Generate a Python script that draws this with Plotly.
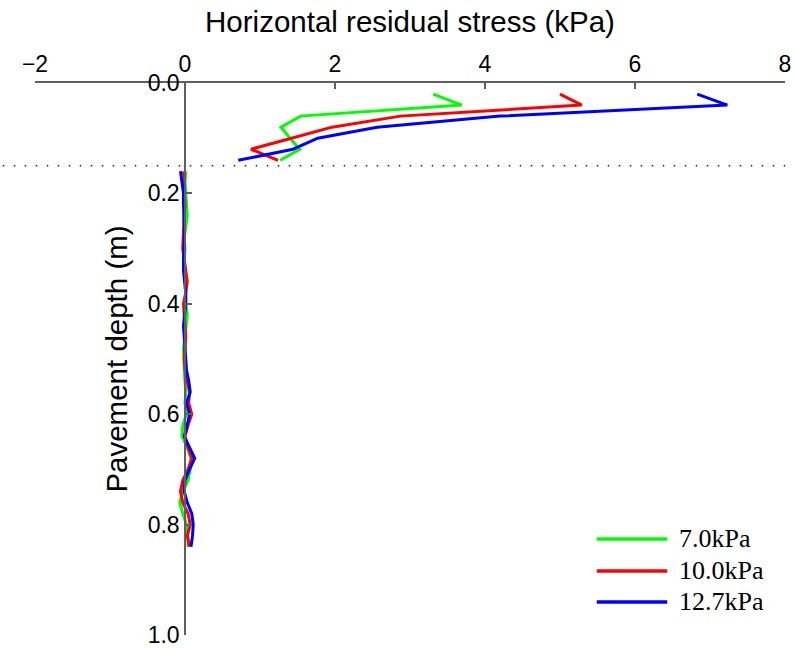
import plotly.graph_objects as go

# depths (m) of the upper layer, above the dotted line
depth_top = [0.02, 0.04, 0.06, 0.08, 0.10, 0.12, 0.14]
green_top = [3.31, 3.69, 1.54, 1.28, 1.40, 1.53, 1.27]
red_top = [5.00, 5.29, 2.87, 1.96, 1.42, 0.88, 1.24]
blue_top = [6.83, 7.23, 4.20, 2.56, 1.77, 1.44, 0.71]

# depths (m) of the lower layer
depth_low = [0.16, 0.18, 0.20, 0.22, 0.24, 0.26, 0.28, 0.30, 0.32, 0.34,
             0.36, 0.38, 0.40, 0.42, 0.44, 0.46, 0.48, 0.50, 0.52, 0.54,
             0.56, 0.58, 0.60, 0.62, 0.64, 0.66, 0.68, 0.70, 0.72, 0.74,
             0.76, 0.78, 0.80, 0.82, 0.84]
green_low = [0.01, 0.00, 0.01, 0.02, 0.03, 0.01, -0.01, 0.00, -0.01, 0.00,
             0.00, 0.00, 0.01, 0.03, 0.02, 0.00, -0.02, -0.02, -0.01, 0.00,
             0.01, 0.00, 0.02, -0.03, -0.04, 0.03, 0.08, 0.07, 0.04, -0.03,
             -0.07, -0.03, 0.02, 0.04, 0.04]
red_low = [-0.02, -0.01, -0.01, 0.00, -0.01, -0.02, -0.03, -0.03, -0.01, 0.01,
           0.03, 0.01, -0.02, -0.01, 0.00, 0.01, 0.00, -0.01, 0.00, 0.03,
           0.06, 0.05, 0.09, 0.04, 0.00, 0.04, 0.09, 0.04, -0.03, -0.06,
           -0.03, 0.04, 0.07, 0.03, 0.06]
blue_low = [-0.06, -0.04, -0.02, -0.02, -0.01, -0.01, -0.01, -0.02, -0.02, -0.02,
            0.00, 0.01, 0.01, -0.01, -0.02, -0.01, 0.00, 0.00, 0.02, 0.05,
            0.07, 0.02, 0.06, 0.03, -0.01, 0.06, 0.13, 0.06, 0.00, -0.01,
            0.03, 0.09, 0.11, 0.10, 0.08]

names = ['7.0kPa', '10.0kPa', '12.7kPa']
colors = ['#00ff00', '#ff0000', '#0000ff']
layer_depth = 0.15
y_ticks = [0.0, 0.2, 0.4, 0.6, 0.8, 1.0]
y_ticklabels = ['0.0', '0.2', '0.4', '0.6', '0.8', '1.0']

series = [(green_top, green_low), (red_top, red_low), (blue_top, blue_low)]

fig = go.Figure()
for (top, low), name, col in zip(series, names, colors):
    fig.add_trace(go.Scatter(x=top + [None] + low,
                             y=depth_top + [None] + depth_low,
                             mode='lines', name=name, showlegend=False,
                             line=dict(color=col, width=3)))

axcol = '#5f5f5f'
fig.update_xaxes(range=[-2, 8], side='top', dtick=2, ticks='inside', ticklen=6,
                 tickcolor=axcol, tickwidth=1.5, showline=True, linecolor=axcol,
                 linewidth=1.5, showgrid=False, zeroline=False, automargin=False,
                 ticklabeloverflow='allow', tickfont=dict(size=23, color='black'),
                 title=dict(text='Horizontal residual stress (kPa)',
                            font=dict(size=29.5, color='black'), standoff=10))
fig.update_yaxes(range=[1, 0], tickmode='array', tickvals=y_ticks, ticktext=y_ticklabels,
                 anchor='free', position=0.2,
                 ticks='inside', ticklen=6, tickcolor=axcol, tickwidth=1.5,
                 showline=True, linecolor=axcol, linewidth=1.5, showgrid=False,
                 zeroline=False, automargin=False, ticklabeloverflow='allow',
                 tickfont=dict(size=23, color='black'),
                 title=dict(text='Pavement depth (m)',
                            font=dict(size=29.5, color='black'), standoff=10))

# dotted line marking the layer boundary
fig.add_shape(type='line', xref='paper', yref='paper', x0=-0.043, x1=1.009,
              y0=1 - layer_depth, y1=1 - layer_depth,
              line=dict(color='#222222', width=1.5, dash='1.5px,9.5px'))

# legend drawn by hand so the line samples are long like the original
leg_y = [0.174, 0.116, 0.060]
for name, col, ly in zip(names, colors, leg_y):
    fig.add_shape(type='line', xref='paper', yref='paper', x0=0.749, x1=0.843,
                  y0=ly, y1=ly, line=dict(color=col, width=3.5))
    fig.add_annotation(x=0.856, y=ly, xref='paper', yref='paper', text=name,
                       showarrow=False, xanchor='left', yanchor='middle',
                       font=dict(family='Liberation Serif', size=26, color='black'))

fig.update_layout(width=794, height=648, margin=dict(l=35, r=9, t=83, b=13),
                  plot_bgcolor='white', paper_bgcolor='white',
                  font=dict(family='Liberation Sans, Arial', color='black'))

fig.write_html('out.html', config={'displayModeBar': False},
               post_script="document.body.style.margin='0';")
